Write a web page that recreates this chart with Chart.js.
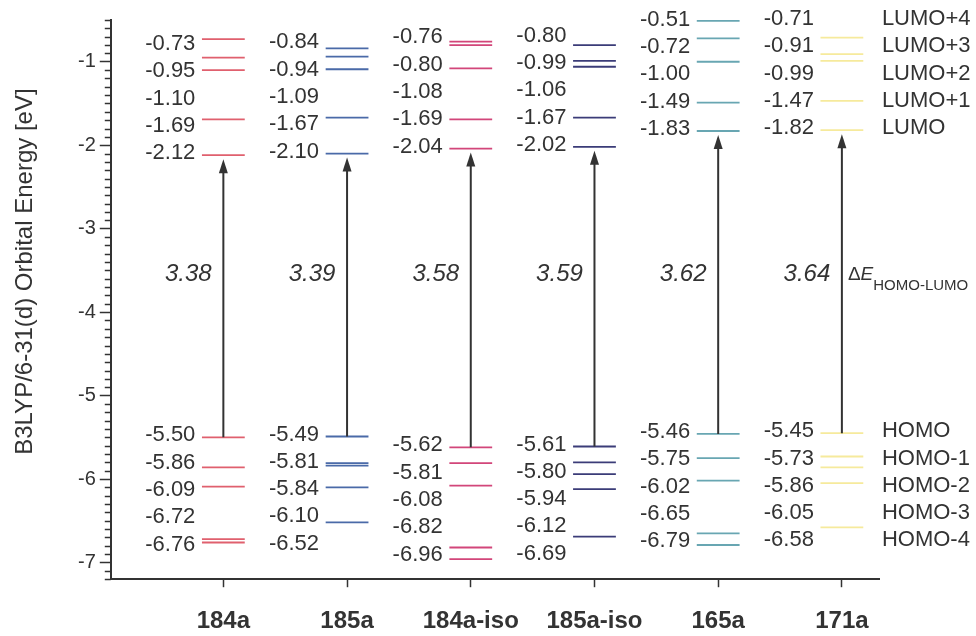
<!DOCTYPE html>
<html>
<head>
<meta charset="utf-8">
<script src="https://cdn.jsdelivr.net/npm/chart.js@4/dist/chart.umd.min.js"></script>
<style>
html, body { margin: 0; padding: 0; background: #fff; }
</style>
</head>
<body>
<canvas id="levelChart" width="976" height="636"></canvas>
<script>
// orbital energies in eV
const compounds = ["184a", "185a", "184a-iso", "185a-iso", "165a", "171a"];
// LUMO+4 ... LUMO
const lumoLevels = [
    [-0.73, -0.95, -1.10, -1.69, -2.12],
    [-0.84, -0.94, -1.09, -1.67, -2.10],
    [-0.76, -0.80, -1.08, -1.69, -2.04],
    [-0.80, -0.99, -1.06, -1.67, -2.02],
    [-0.51, -0.72, -1.00, -1.49, -1.83],
    [-0.71, -0.91, -0.99, -1.47, -1.82]
];
// HOMO ... HOMO-4
const homoLevels = [
    [-5.50, -5.86, -6.09, -6.72, -6.76],
    [-5.49, -5.81, -5.84, -6.10, -6.52],
    [-5.62, -5.81, -6.08, -6.82, -6.96],
    [-5.61, -5.80, -5.94, -6.12, -6.69],
    [-5.46, -5.75, -6.02, -6.65, -6.79],
    [-5.45, -5.73, -5.86, -6.05, -6.58]
];
const gaps = [3.38, 3.39, 3.58, 3.59, 3.62, 3.64];
const lumoNames = ["LUMO+4", "LUMO+3", "LUMO+2", "LUMO+1", "LUMO"];
const homoNames = ["HOMO", "HOMO-1", "HOMO-2", "HOMO-3", "HOMO-4"];
const yTicks = [-1, -2, -3, -4, -5, -6, -7];
const yTitle = "B3LYP/6-31(d) Orbital Energy [eV]";

const colors = ["#e0606e", "#4a6aa8", "#d2467a", "#3b3c78", "#68a6b2", "#f6ea9c"];
const textColor = "#333";
const fontFamily = "'Liberation Sans', Arial, sans-serif";
const halfWidth = 0.173;   // half length of a level line, in category units
const labelStep = 27.3;    // px between stacked value labels
const gapLabelY = -3.55;   // where the gap numbers sit

Chart.defaults.font.family = fontFamily;
Chart.defaults.color = textColor;

function levelPoints(i) {
    const pts = [];
    lumoLevels[i].concat(homoLevels[i]).forEach(e => {
        pts.push({x: i - halfWidth, y: e}, {x: i + halfWidth, y: e}, {x: i, y: null});
    });
    return pts;
}

const annotations = {
    id: "annotations",
    afterDraw(chart) {
        const {ctx, chartArea, scales: {x, y}} = chart;
        ctx.save();

        // axis title, sits a little above the middle of the axis
        ctx.save();
        ctx.translate(25, (chartArea.top + chartArea.bottom) / 2 - 28);
        ctx.rotate(-Math.PI / 2);
        ctx.font = "24px " + fontFamily;
        ctx.fillStyle = textColor;
        ctx.textAlign = "center";
        ctx.textBaseline = "middle";
        ctx.fillText(yTitle, 0, 0);
        ctx.restore();

        // minor ticks on the energy axis
        ctx.strokeStyle = textColor;
        ctx.lineWidth = 1.5;
        const ax = chartArea.left;
        for (let k = Math.ceil(y.min * 10); k <= Math.floor(y.max * 10); k++) {
            if (k % 10 === 0) continue;
            const py = Math.round(y.getPixelForValue(k / 10)) + 0.5;
            ctx.beginPath();
            ctx.moveTo(ax - 6, py);
            ctx.lineTo(ax, py);
            ctx.stroke();
        }

        ctx.fillStyle = textColor;
        compounds.forEach((c, i) => {
            const px = x.getPixelForValue(i);
            const lumoPx = y.getPixelForValue(lumoLevels[i][4]);
            const homoPx = y.getPixelForValue(homoLevels[i][0]);

            // HOMO -> LUMO arrow
            const tip = lumoPx + 4;
            ctx.lineWidth = 2;
            ctx.beginPath();
            ctx.moveTo(px, homoPx);
            ctx.lineTo(px, tip + 10);
            ctx.stroke();
            ctx.beginPath();
            ctx.moveTo(px, tip);
            ctx.lineTo(px - 4.5, tip + 14);
            ctx.lineTo(px + 4.5, tip + 14);
            ctx.closePath();
            ctx.fill();

            // value labels
            ctx.font = "22px " + fontFamily;
            ctx.textAlign = "right";
            ctx.textBaseline = "middle";
            lumoLevels[i].forEach((e, k) => {
                ctx.fillText(e.toFixed(2), px - 28, lumoPx - 2 - (4 - k) * labelStep);
            });
            homoLevels[i].forEach((e, k) => {
                ctx.fillText(e.toFixed(2), px - 28, homoPx - 2 + k * labelStep);
            });

            // gap
            ctx.font = "italic 24px " + fontFamily;
            ctx.textAlign = "center";
            ctx.fillText(gaps[i].toFixed(2), px - 35, y.getPixelForValue(gapLabelY));
        });

        // orbital names next to the last column
        const last = compounds.length - 1;
        const nx = x.getPixelForValue(last) + 40;
        const lumoLast = y.getPixelForValue(lumoLevels[last][4]);
        const homoLast = y.getPixelForValue(homoLevels[last][0]);
        ctx.font = "22px " + fontFamily;
        ctx.textAlign = "left";
        lumoNames.forEach((n, k) => ctx.fillText(n, nx, lumoLast - 2 - (4 - k) * labelStep));
        homoNames.forEach((n, k) => ctx.fillText(n, nx, homoLast - 2 + k * labelStep));

        // delta E label
        let dx = x.getPixelForValue(last) + 6;
        const dy = y.getPixelForValue(gapLabelY);
        ctx.font = "19px " + fontFamily;
        ctx.fillText("\u0394", dx, dy);
        dx += ctx.measureText("\u0394").width;
        ctx.font = "italic 19px " + fontFamily;
        ctx.fillText("E", dx, dy);
        dx += ctx.measureText("E").width;
        ctx.font = "15px " + fontFamily;
        ctx.fillText("HOMO-LUMO", dx, dy + 11);

        ctx.restore();
    }
};

new Chart(document.getElementById("levelChart"), {
    type: "scatter",
    data: {
        datasets: compounds.map((c, i) => ({
            label: c,
            data: levelPoints(i),
            showLine: true,
            spanGaps: false,
            borderColor: colors[i],
            borderWidth: 1.8,
            pointRadius: 0
        }))
    },
    options: {
        responsive: false,
        animation: false,
        layout: {
            padding: {top: 20, right: 97, bottom: -20, left: 74}
        },
        plugins: {
            legend: {display: false},
            tooltip: {enabled: false}
        },
        scales: {
            x: {
                type: "linear",
                min: -0.91,
                max: 5.3,
                afterBuildTicks: scale => {
                    scale.ticks = compounds.map((c, i) => ({value: i}));
                },
                ticks: {
                    callback: v => compounds[v],
                    font: {size: 24, weight: "bold"},
                    color: textColor,
                    padding: 20,
                    maxRotation: 0
                },
                grid: {
                    drawOnChartArea: false,
                    tickLength: 8,
                    tickColor: textColor,
                    tickWidth: 1.5
                },
                border: {color: textColor, width: 2}
            },
            y: {
                min: -7.2,
                max: -0.5,
                afterBuildTicks: scale => {
                    scale.ticks = yTicks.map(v => ({value: v}));
                },
                ticks: {
                    font: {size: 20},
                    color: textColor,
                    padding: 4
                },
                grid: {
                    drawOnChartArea: false,
                    tickLength: 11,
                    tickColor: textColor,
                    tickWidth: 1.5
                },
                border: {color: textColor, width: 2}
            }
        }
    },
    plugins: [annotations]
});
</script>
</body>
</html>
